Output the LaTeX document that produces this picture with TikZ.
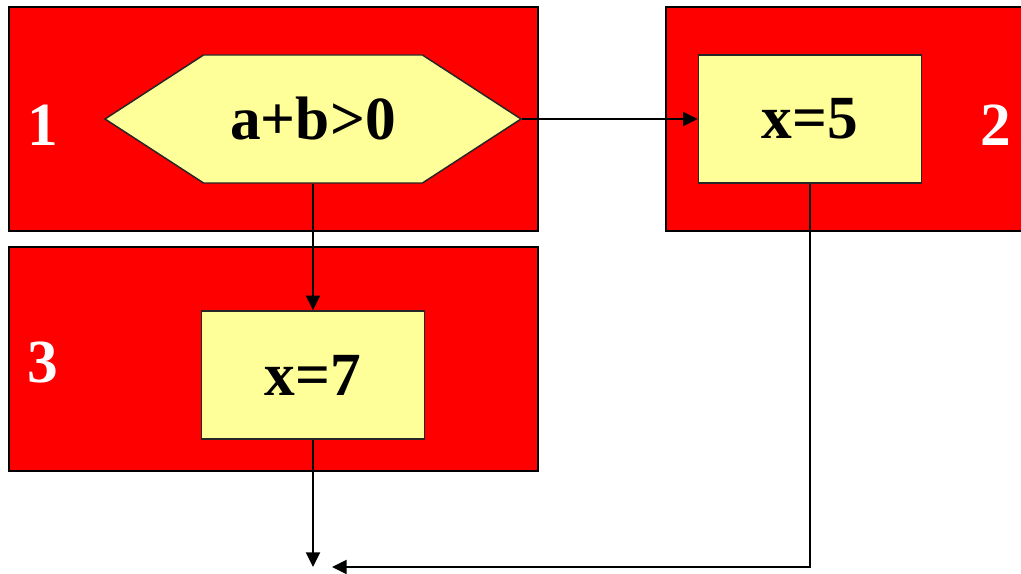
\documentclass[tikz,border=0pt]{standalone}
\usepackage{fontspec}
\setmainfont{Liberation Serif}
\usetikzlibrary{arrows.meta,positioning,shapes.symbols}
\definecolor{paleyellow}{HTML}{FFFF99}
\newcommand{\bigtxt}{\fontsize{46}{50}\selectfont\bfseries}

\begin{document}
\begin{tikzpicture}[>={Triangle[length=11pt,width=10.5pt]},x=0.75pt,y=-0.75pt,
    redblock/.style={draw=black,line width=1.2pt,fill=red,minimum width=396.75pt,minimum height=168pt,inner sep=0pt},
    yelbox/.style={draw=black!85,line width=1.1pt,fill=paleyellow,minimum width=167.25pt,minimum height=96pt,inner sep=0pt,font=\bigtxt},
    hexbox/.style={yelbox,signal,signal to=east and west,signal pointer angle=66,minimum width=312pt},
    numlabel/.style={text=white,font=\bigtxt,inner sep=0pt},
    link/.style={->,line width=1.4pt}]

    \useasboundingbox (0,0) rectangle (1021,574);
    \clip (0,0) rectangle (1021,574);

    % Red blocks
    \node[redblock] (blk1) at (273.5,119) {};
    \node[redblock] (blk2) at (930.5,119) {};
    \node[redblock] (blk3) at (273.5,359) {};

    % Block numbers
    \node[numlabel] (n1) at (43,125) {1};
    \node[numlabel] (n2) at (996,125) {2};
    \node[numlabel] (n3) at (43,362) {3};

    % Condition and assignments
    \node[hexbox] (cond) at (313,119) {a+b>0};
    \node[yelbox] (set5) at (810,119) {x=5};
    \node[yelbox] (set7) at (313,375) {x=7};

    % Flow
    \coordinate (merge) at (313,567);
    \coordinate (merge2) at (332,567);
    \draw[link] (cond.east) -- (set5.west);
    \draw[link] (cond.south) -- (set7.north);
    \draw[link] (set7.south) -- (merge);
    \draw[link] (set5.south) |- (merge2);

\end{tikzpicture}
\end{document}
